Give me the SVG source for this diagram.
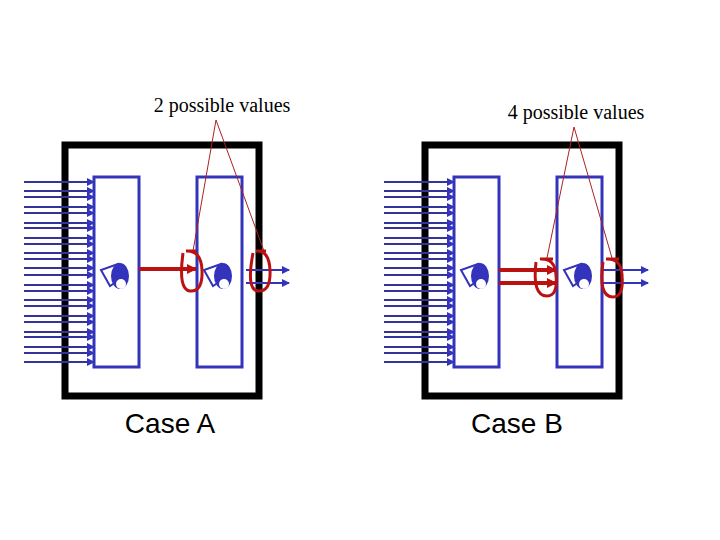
<svg xmlns="http://www.w3.org/2000/svg" width="720" height="540" viewBox="0 0 720 540">
<style>
.frame{fill:none;stroke:#000;stroke-width:7}
.box{fill:none;stroke:#3333bb;stroke-width:3}
.in{stroke:#333399;stroke-width:2;marker-end:url(#ab)}
.out{stroke:#3333bb;stroke-width:2;marker-end:url(#ab)}
.red{stroke:#bb1111;stroke-width:4;marker-end:url(#ar)}
.oval{fill:none;stroke:#bb1111;stroke-width:3}
.lead{stroke:#aa2222;stroke-width:1;fill:none}
.ico{fill:#3333bb;stroke:#3333bb;stroke-width:2}
.lbl{font-family:"Liberation Serif",serif;font-size:20px}
.case{font-family:"Liberation Sans",sans-serif;font-size:28px}
</style>
<defs>
<marker id="ab" markerWidth="8" markerHeight="8" refX="7" refY="4" orient="auto" markerUnits="userSpaceOnUse"><path d="M0,0L8,4L0,8z" fill="#3333bb"/></marker>
<marker id="ar" markerWidth="10" markerHeight="10" refX="9" refY="5" orient="auto" markerUnits="userSpaceOnUse"><path d="M0,0L10,5L0,10z" fill="#bb1111"/></marker>
<g id="inputs">
<line class="in" x1="24" y1="182" x2="94" y2="182"/><line class="in" x1="24" y1="191" x2="94" y2="191"/>
<line class="in" x1="24" y1="197" x2="94" y2="197"/><line class="in" x1="24" y1="207" x2="94" y2="207"/>
<line class="in" x1="24" y1="213" x2="94" y2="213"/><line class="in" x1="24" y1="223" x2="94" y2="223"/>
<line class="in" x1="24" y1="228" x2="94" y2="228"/><line class="in" x1="24" y1="238" x2="94" y2="238"/>
<line class="in" x1="24" y1="244" x2="94" y2="244"/><line class="in" x1="24" y1="253" x2="94" y2="253"/>
<line class="in" x1="24" y1="259" x2="94" y2="259"/><line class="in" x1="24" y1="268" x2="94" y2="268"/>
<line class="in" x1="24" y1="275" x2="94" y2="275"/><line class="in" x1="24" y1="285" x2="94" y2="285"/>
<line class="in" x1="24" y1="291" x2="94" y2="291"/><line class="in" x1="24" y1="300" x2="94" y2="300"/>
<line class="in" x1="24" y1="306" x2="94" y2="306"/><line class="in" x1="24" y1="316" x2="94" y2="316"/>
<line class="in" x1="24" y1="322" x2="94" y2="322"/><line class="in" x1="24" y1="332" x2="94" y2="332"/>
<line class="in" x1="24" y1="337" x2="94" y2="337"/><line class="in" x1="24" y1="347" x2="94" y2="347"/>
<line class="in" x1="24" y1="353" x2="94" y2="353"/><line class="in" x1="24" y1="362" x2="94" y2="362"/>
</g>
<g id="icon"><path class="ico" d="M2,-12 L-15,-6 L-6,10 L0,6 Z" fill="none" style="fill:none"/><ellipse class="ico" cx="4" cy="0" rx="8" ry="12"/><circle cx="5" cy="8" r="5" fill="#fff"/></g>
</defs>
<g id="caseA">
<g id="frameA"><rect class="frame" x="65" y="145" width="194" height="251"/></g>
<use href="#inputs"/>
<g id="boxA1"><rect class="box" x="94" y="177" width="45" height="190"/><use href="#icon" x="116" y="276"/></g>
<g id="boxA2"><rect class="box" x="197" y="177" width="45" height="190"/><use href="#icon" x="219" y="276"/></g>
<g id="connA">
<line class="red" x1="139" y1="269" x2="196" y2="269"/>
<line class="out" x1="246" y1="270" x2="289" y2="270"/>
<line class="out" x1="246" y1="283" x2="289" y2="283"/>
<path class="oval" d="M183,253 Q178,290 190,291 Q203,292 202,270 Q201,250 186,251 L196,251"/>
<path class="oval" d="M253,253 Q246,290 258,291 Q271,292 270,270 Q269,250 256,251 L266,251"/>
<polyline class="lead" points="193,251 216,120 264,251"/>
</g>
<text class="lbl" x="222" y="112" text-anchor="middle">2 possible values</text>
<text class="case" x="170" y="433" text-anchor="middle">Case A</text>
</g>
<g id="caseB">
<g id="frameB"><rect class="frame" x="425" y="145" width="194" height="251"/></g>
<use href="#inputs" x="360"/>
<g id="boxB1"><rect class="box" x="454" y="177" width="45" height="190"/><use href="#icon" x="476" y="276"/></g>
<g id="boxB2"><rect class="box" x="557" y="177" width="45" height="190"/><use href="#icon" x="579" y="276"/></g>
<g id="connB">
<line class="red" x1="499" y1="270" x2="556" y2="270"/>
<line class="red" x1="499" y1="283" x2="556" y2="283"/>
<line class="out" x1="603" y1="270" x2="648" y2="270"/>
<line class="out" x1="603" y1="283" x2="648" y2="283"/>
<path class="oval" d="M536,262 Q532,296 547,296 Q558,296 556,275 Q555,258 540,259 L553,259"/>
<path class="oval" d="M603,262 Q598,297 613,297 Q624,297 622,275 Q621,258 606,259 L619,259"/>
<polyline class="lead" points="547,258 574,127 612,258"/>
</g>
<text class="lbl" x="576" y="119" text-anchor="middle">4 possible values</text>
<text class="case" x="517" y="433" text-anchor="middle">Case B</text>
</g>
</svg>
